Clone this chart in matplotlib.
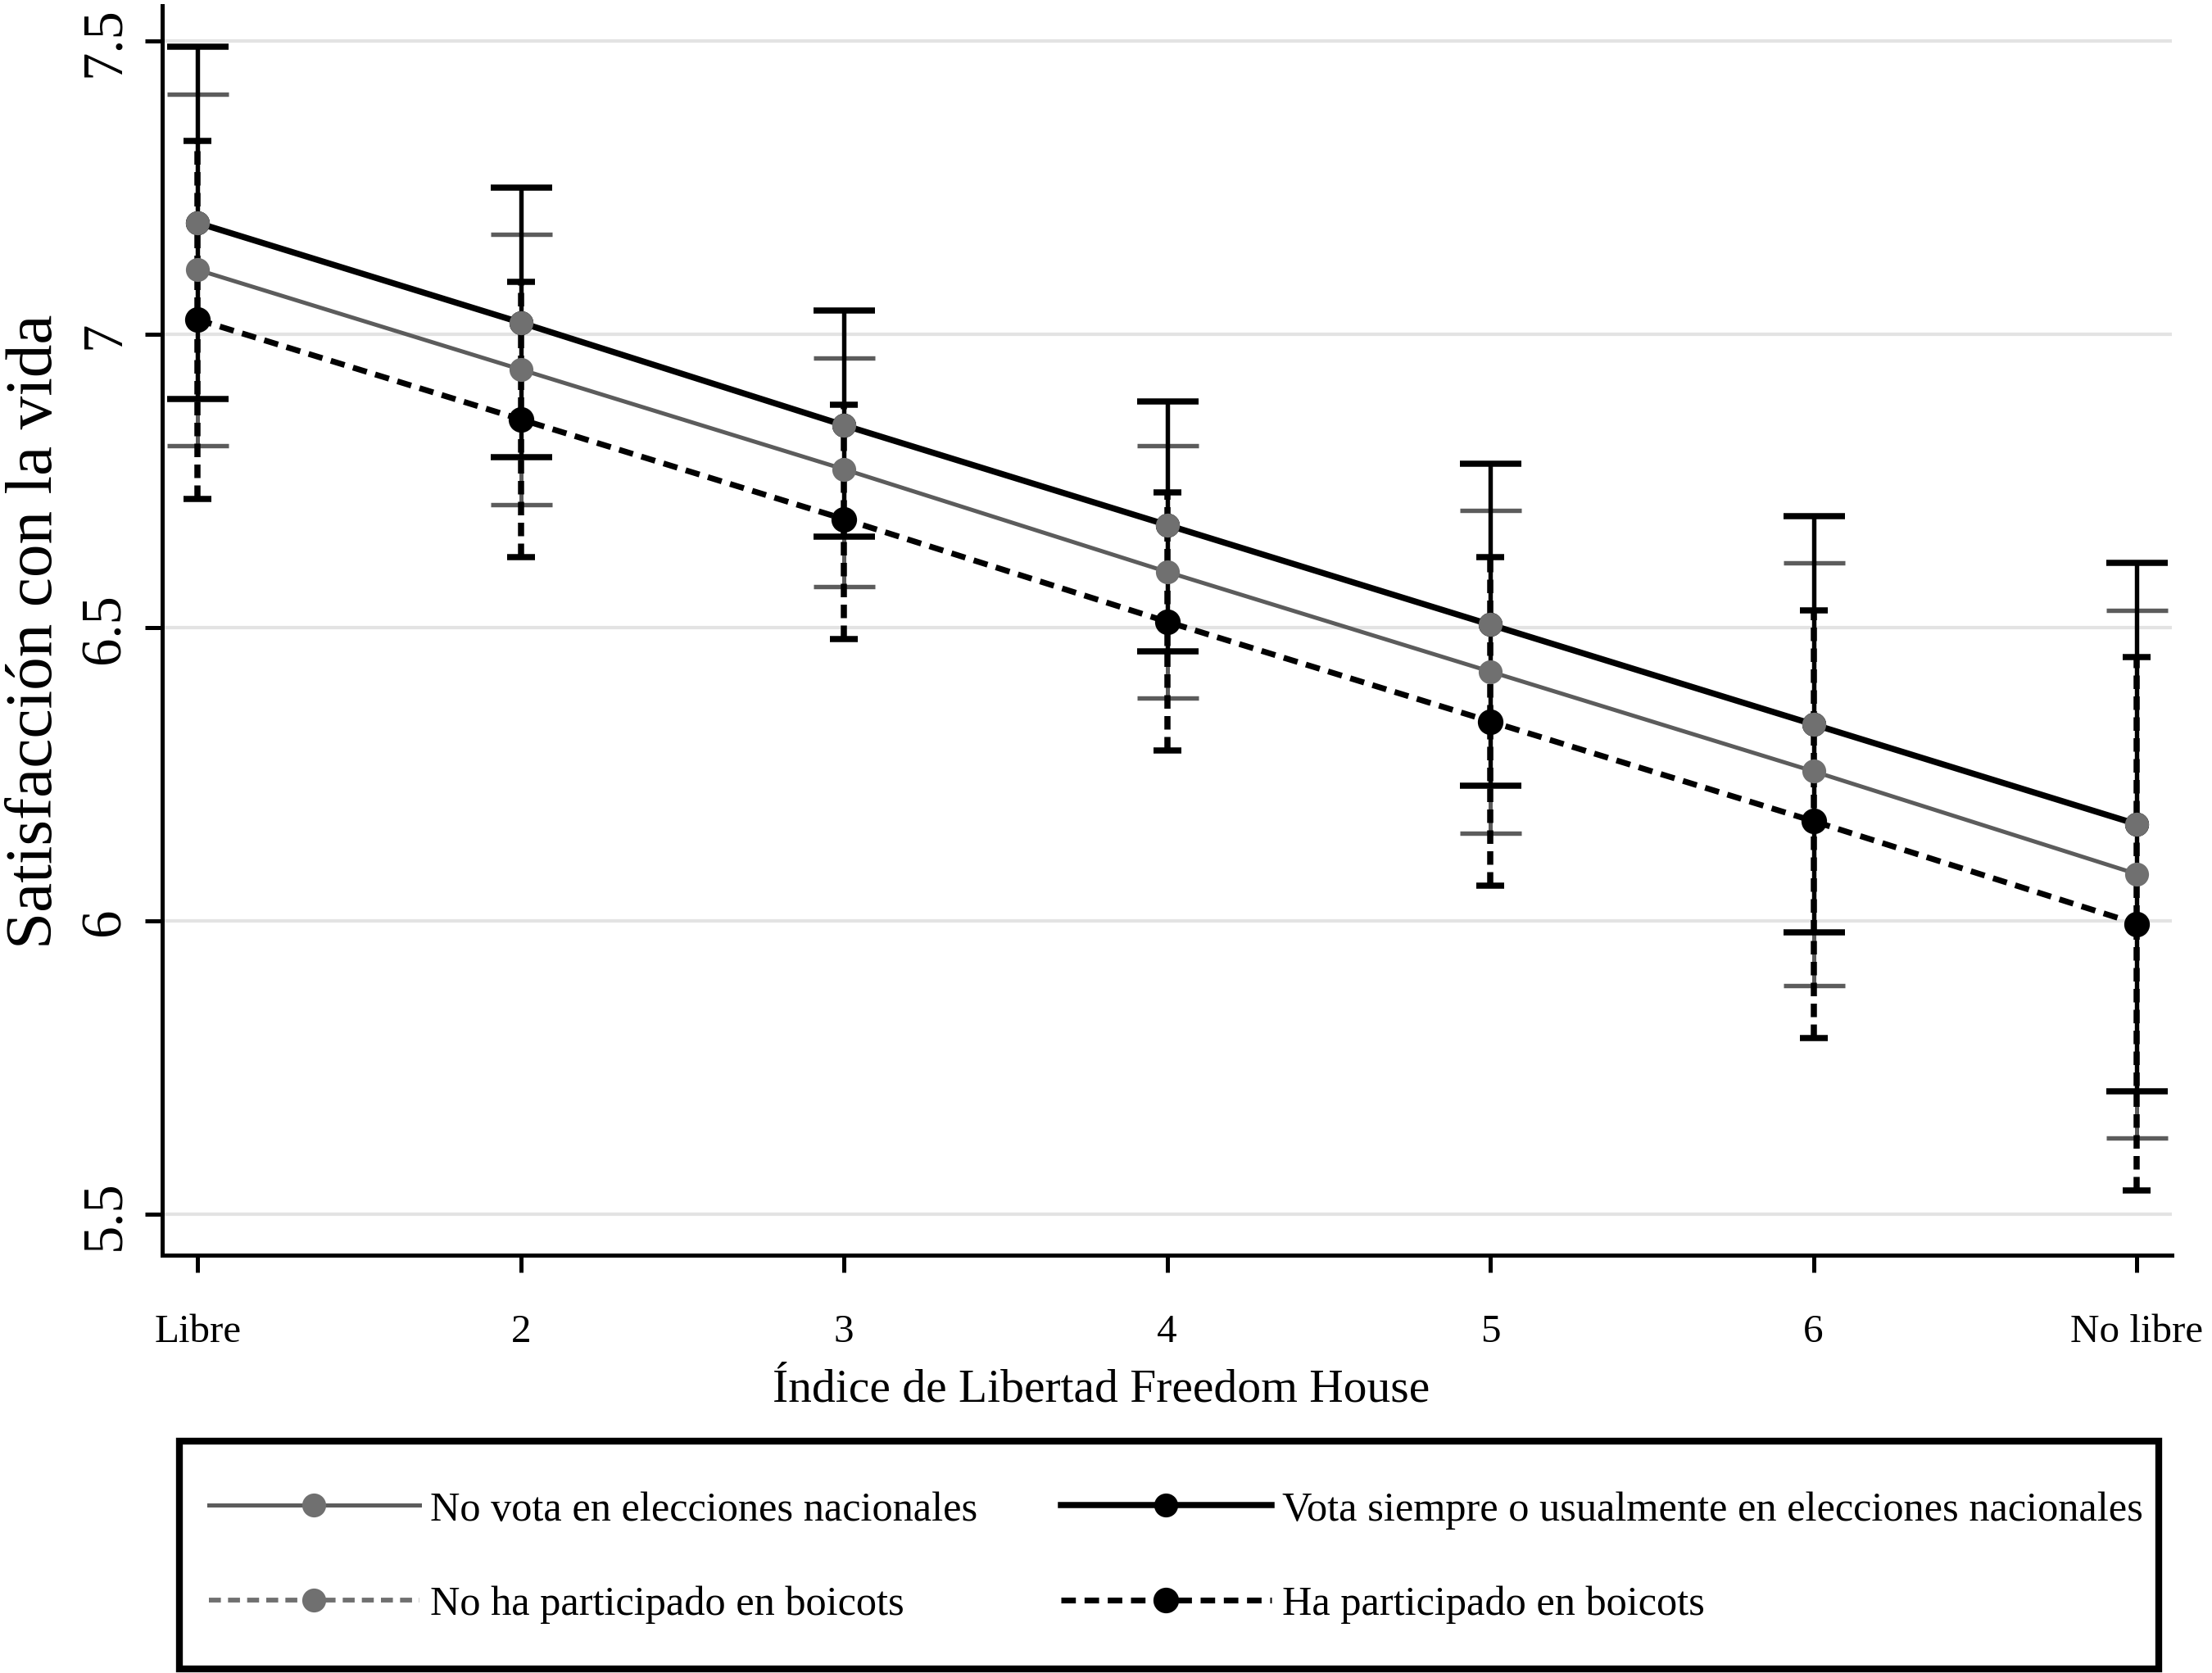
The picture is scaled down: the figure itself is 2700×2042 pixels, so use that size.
import matplotlib
matplotlib.use("Agg")
import matplotlib.pyplot as plt
from matplotlib.patches import Rectangle

plt.rcParams["font.family"] = ["Liberation Serif", "DejaVu Serif"]

# Freedom House index positions and tick labels
x = [1, 2, 3, 4, 5, 6, 7]
xticklabels = ["Libre", "2", "3", "4", "5", "6", "No libre"]

# predicted life satisfaction per group
no_vota = [7.11, 6.94, 6.77, 6.595, 6.425, 6.255, 6.08]
no_vota_lo = [6.81, 6.71, 6.57, 6.38, 6.15, 5.89, 5.63]
no_vota_hi = [7.41, 7.17, 6.96, 6.81, 6.70, 6.61, 6.53]

vota = [7.19, 7.02, 6.845, 6.675, 6.505, 6.335, 6.165]
vota_lo = [6.89, 6.79, 6.655, 6.46, 6.23, 5.98, 5.71]
vota_hi = [7.49, 7.25, 7.04, 6.885, 6.78, 6.69, 6.61]

no_boicot = [7.19, 7.02, 6.845, 6.675, 6.505, 6.335, 6.165]

boicot = [7.025, 6.855, 6.685, 6.51, 6.34, 6.17, 5.995]
boicot_lo = [6.72, 6.62, 6.48, 6.29, 6.06, 5.80, 5.54]
boicot_hi = [7.33, 7.09, 6.88, 6.73, 6.62, 6.53, 6.45]

GRAY = "#5c5c5c"
MGRAY = "#707070"


def _err(y, lo, hi):
    return [[v - l for v, l in zip(y, lo)], [h - v for v, h in zip(y, hi)]]


fig = plt.figure(figsize=(9, 6.81), dpi=300)
ax = fig.add_axes([0.0733, 0.2496, 0.9087, 0.7464])

# confidence intervals
ax.errorbar(x, no_vota, yerr=_err(no_vota, no_vota_lo, no_vota_hi), fmt="none",
            ecolor=GRAY, elinewidth=1.2, capsize=9, capthick=1.3, zorder=2)
ax.errorbar(x, vota, yerr=_err(vota, vota_lo, vota_hi), fmt="none",
            ecolor="black", elinewidth=1.3, capsize=9, capthick=1.8, zorder=2.2)
eb = ax.errorbar(x, boicot, yerr=_err(boicot, boicot_lo, boicot_hi), fmt="none",
                 ecolor="black", elinewidth=1.8, capsize=4, capthick=1.8, zorder=2.4)
eb[2][0].set_linestyle((0, (2.2, 1.2)))

# lines
ax.plot(x, no_boicot, color=MGRAY, linestyle=(0, (2.5, 1.5)), linewidth=1.4,
        marker="o", markersize=6, markerfacecolor=MGRAY, markeredgecolor=MGRAY,
        label="No ha participado en boicots", zorder=2.5)
ax.plot(x, no_vota, color=GRAY, linewidth=1.2, marker="o", markersize=6,
        markerfacecolor=MGRAY, markeredgecolor=MGRAY,
        label="No vota en elecciones nacionales", zorder=3)
ax.plot(x, vota, color="black", linewidth=1.8, marker="o", markersize=6,
        markerfacecolor="black", markeredgecolor="black",
        label="Vota siempre o usualmente en elecciones nacionales", zorder=3.2)
ax.plot(x, boicot, color="black", linestyle=(0, (2.5, 1.5)), linewidth=1.7,
        marker="o", markersize=6.5, markerfacecolor="black", markeredgecolor="black",
        label="Ha participado en boicots", zorder=3.4)
# gray markers of the hidden series sit on top of the black line
ax.plot(x, no_boicot, linestyle="none", marker="o", markersize=6,
        markerfacecolor=MGRAY, markeredgecolor=MGRAY, zorder=4)

ax.set_xlim(0.89, 7.11)
ax.set_ylim(5.43, 7.56)
ax.set_xticks(x)
ax.set_xticklabels(xticklabels, fontsize=11.8)
ax.set_yticks([5.5, 6, 6.5, 7, 7.5])
ax.set_yticklabels(["5.5", "6", "6.5", "7", "7.5"], fontsize=16.5, rotation=90, va="center")
ax.tick_params(axis="both", direction="out", length=5, width=1.2, color="black")
ax.tick_params(axis="x", pad=12)
ax.tick_params(axis="y", pad=4)
ax.yaxis.grid(True, color="#e3e3e3", linewidth=1.0)
ax.set_axisbelow(True)
for side in ("top", "right"):
    ax.spines[side].set_visible(False)
for side in ("left", "bottom"):
    ax.spines[side].set_linewidth(1.2)

ax.set_xlabel("Índice de Libertad Freedom House", fontsize=13.8, labelpad=3)
ax.xaxis.set_label_coords(0.467, -0.09)
ax.set_ylabel("Satisfacción con la vida", fontsize=19.5, labelpad=4)

# legend box drawn separately so its size can match
fig.patches.append(Rectangle((0.081, 0.0025), 0.8948, 0.1358, transform=fig.transFigure,
                             fill=False, edgecolor="black", linewidth=2.0))
h, l = ax.get_legend_handles_labels()
order = [1, 0, 2, 3]
fig.legend([h[i] for i in order], [l[i] for i in order], ncol=2, mode="expand",
           bbox_to_anchor=(0.0944, 0.0025, 0.8743, 0.1336), loc="center",
           fontsize=12.1, frameon=False, handlelength=5.1,
           handletextpad=0.25, labelspacing=1.36, borderaxespad=0, borderpad=0)

fig.savefig("out.png", dpi=300)
